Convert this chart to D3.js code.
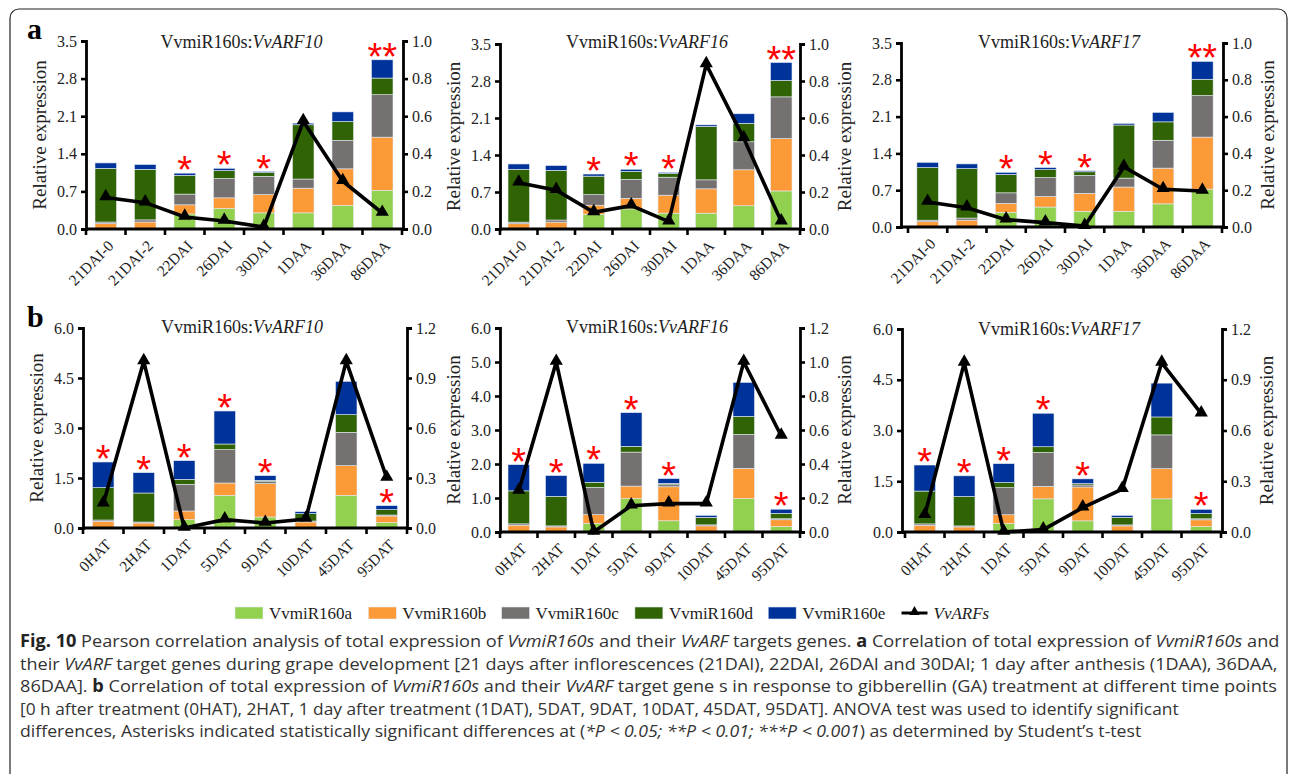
<!DOCTYPE html>
<html>
<head>
<meta charset="utf-8">
<script src="https://cdn.jsdelivr.net/npm/d3@7"></script>
<style>
  body { margin: 0; background: #fff; }
  svg text { font-family: "Liberation Serif", "Times New Roman", serif; }
</style>
</head>
<body>
<svg id="fig" width="1290" height="774"></svg>
<script>
// categories
var devCats = ["21DAI-0", "21DAI-2", "22DAI", "26DAI", "30DAI", "1DAA", "36DAA", "86DAA"];
var gaCats = ["0HAT", "2HAT", "1DAT", "5DAT", "9DAT", "10DAT", "45DAT", "95DAT"];

var seriesNames = ["VvmiR160a", "VvmiR160b", "VvmiR160c", "VvmiR160d", "VvmiR160e"];

// stacked miRNA expression, development (panel a)
var devA = [0.00, 0.00, 0.28, 0.38, 0.30, 0.30, 0.44, 0.72];
var devB = [0.10, 0.13, 0.17, 0.20, 0.34, 0.46, 0.68, 0.99];
var devC = [0.03, 0.04, 0.20, 0.36, 0.34, 0.17, 0.53, 0.79];
var devD = [1.00, 0.94, 0.35, 0.15, 0.07, 1.01, 0.35, 0.31];
var devE = [0.10, 0.09, 0.04, 0.04, 0.02, 0.03, 0.18, 0.34];

// stacked miRNA expression, GA treatment (panel b)
var gaA = [0.00, 0.00, 0.25, 0.98, 0.33, 0.02, 0.98, 0.16];
var gaB = [0.20, 0.15, 0.26, 0.37, 1.00, 0.16, 0.89, 0.20];
var gaC = [0.04, 0.03, 0.80, 1.00, 0.06, 0.03, 1.00, 0.03];
var gaD = [0.97, 0.87, 0.15, 0.17, 0.04, 0.22, 0.53, 0.16];
var gaE = [0.77, 0.61, 0.56, 0.99, 0.14, 0.06, 1.00, 0.12];

// ARF target expression (right axis)
var arf10Dev = [0.168, 0.140, 0.064, 0.043, 0.010, 0.573, 0.254, 0.085];
var arf16Dev = [0.250, 0.210, 0.090, 0.126, 0.040, 0.890, 0.490, 0.040];
var arf17Dev = [0.136, 0.105, 0.040, 0.024, 0.005, 0.326, 0.205, 0.196];
var arf10GA = [0.146, 1.000, 0.000, 0.050, 0.030, 0.054, 1.000, 0.300];
var arf16GA = [0.241, 1.000, 0.000, 0.155, 0.167, 0.167, 1.000, 0.565];
var arf17GA = [0.099, 1.000, 0.000, 0.014, 0.144, 0.253, 1.000, 0.700];

// significance marks
var devSig = ["", "", "*", "*", "*", "", "", "**"];
var gaSig = ["*", "*", "*", "*", "*", "", "", "*"];

var colors = ["#92d050", "#fb9a36", "#767171", "#2f6303", "#003399"];

var svg = d3.select("#fig");

// outer frame
svg.append("rect")
  .attr("x", 10).attr("y", 9)
  .attr("width", 1277).attr("height", 775)
  .attr("rx", 9)
  .attr("fill", "none").attr("stroke", "#222").attr("stroke-width", 1.2);

function stackRows(cats, cols) {
  return cats.map(function (c, i) {
    var row = { cat: c };
    seriesNames.forEach(function (s, j) { row[s] = cols[j][i]; });
    return row;
  });
}

function drawChart(cfg) {
  var g = svg.append("g");

  var x = d3.scaleBand().domain(cfg.cats).range([cfg.x0, cfg.x1]);
  var y = d3.scaleLinear().domain([0, cfg.yMax]).range([cfg.bottom, cfg.top]);
  var y2 = d3.scaleLinear().domain([0, cfg.y2Max]).range([cfg.bottom, cfg.top]);

  var rows = stackRows(cfg.cats, cfg.cols);
  var stacked = d3.stack().keys(seriesNames)(rows);
  var bw = 21.5;

  g.selectAll("g.layer")
    .data(stacked)
    .join("g")
    .attr("class", "layer")
    .attr("fill", function (d, i) { return colors[i]; })
    .selectAll("rect")
    .data(function (d) { return d; })
    .join("rect")
    .attr("x", function (d) { return x(d.data.cat) + x.bandwidth() / 2 - bw / 2; })
    .attr("width", bw)
    .attr("y", function (d) { return y(d[1]); })
    .attr("height", function (d) { return Math.max(0, y(d[0]) - y(d[1])); })
    .attr("stroke", "#e4e9f3")
    .attr("stroke-width", 0.6);

  // asterisks
  var totals = rows.map(function (r) { return d3.sum(seriesNames, function (s) { return r[s]; }); });
  g.selectAll("text.sig")
    .data(cfg.sig)
    .join("text")
    .attr("class", "sig")
    .attr("x", function (d, i) { return x(cfg.cats[i]) + x.bandwidth() / 2; })
    .attr("y", function (d, i) { return y(totals[i]) + 10; })
    .attr("text-anchor", "middle")
    .style("font-family", "'Liberation Sans', Arial, sans-serif")
    .style("font-size", "38px")
    .attr("fill", "#ff0000")
    .text(function (d) { return d; });

  // axes
  var yTicks = d3.range(0, cfg.yMax + 1e-6, cfg.yStep);
  var y2Ticks = d3.range(0, cfg.y2Max + 1e-6, cfg.y2Step);

  var axL = g.append("g")
    .attr("transform", "translate(" + cfg.left + ",0)")
    .call(d3.axisLeft(y).tickValues(yTicks).tickFormat(d3.format(".1f")).tickSizeOuter(0).tickSize(5).tickPadding(4));
  var axR = g.append("g")
    .attr("transform", "translate(" + cfg.right + ",0)")
    .call(d3.axisRight(y2).tickValues(y2Ticks).tickFormat(d3.format(".1f")).tickSizeOuter(0).tickSize(5).tickPadding(4));
  var axB = g.append("g")
    .attr("transform", "translate(0," + cfg.bottom + ")")
    .call(d3.axisBottom(x).tickSize(0).tickFormat(""));

  [axL, axR, axB].forEach(function (ax) {
    ax.select(".domain").attr("stroke", "#000").attr("stroke-width", 2.8);
    ax.selectAll(".tick line").attr("stroke", "#000").attr("stroke-width", 2.6);
    ax.selectAll("text").style("font-size", "16px").attr("fill", "#222");
  });
  axB.select(".domain").attr("d", "M" + cfg.left + ",0H" + cfg.right);

  // x ticks at band edges
  var edges = cfg.cats.map(function (c) { return x(c); }).concat([cfg.x1]);
  axB.selectAll("line.edge")
    .data(edges)
    .join("line")
    .attr("class", "edge")
    .attr("x1", function (d) { return d; }).attr("x2", function (d) { return d; })
    .attr("y1", 0).attr("y2", 6)
    .attr("stroke", "#000").attr("stroke-width", 2.6);

  // rotated category labels
  g.selectAll("text.xlab")
    .data(cfg.cats)
    .join("text")
    .attr("class", "xlab")
    .attr("transform", function (d) {
      return "translate(" + (x(d) + x.bandwidth() / 2 + 5) + "," + (cfg.bottom + 14) + ") rotate(-45)";
    })
    .attr("text-anchor", "end")
    .attr("dy", "0.35em")
    .style("font-size", "15.5px")
    .attr("fill", "#222")
    .text(function (d) { return d; });

  // ARF line + triangles
  var pts = cfg.line.map(function (v, i) { return [x(cfg.cats[i]) + x.bandwidth() / 2, y2(v)]; });
  g.append("path")
    .attr("d", d3.line()(pts))
    .attr("fill", "none")
    .attr("stroke", "#000")
    .attr("stroke-width", 3.6)
    .attr("stroke-linejoin", "miter");
  g.selectAll("path.mk")
    .data(pts)
    .join("path")
    .attr("class", "mk")
    .attr("transform", function (d) { return "translate(" + d[0] + "," + (d[1] - 1) + ")"; })
    .attr("d", d3.symbol(d3.symbolTriangle, 75))
    .attr("fill", "#000");

  // title
  var t = g.append("text")
    .attr("x", (cfg.left + cfg.right) / 2 - 3)
    .attr("y", cfg.titleY)
    .attr("text-anchor", "middle")
    .style("font-size", "18px")
    .attr("fill", "#222");
  t.append("tspan").text("VvmiR160s:");
  t.append("tspan").style("font-style", "italic").text(cfg.gene);

  // axis titles
  var midY = (cfg.top + cfg.bottom) / 2;
  if (cfg.leftLabel) {
    g.append("text")
      .attr("transform", "translate(" + (cfg.left - 40) + "," + midY + ") rotate(-90)")
      .attr("text-anchor", "middle")
      .style("font-size", "19px")
      .attr("fill", "#222")
      .text("Relative expression");
  }
  if (cfg.rightLabel) {
    g.append("text")
      .attr("transform", "translate(" + (cfg.right + 51) + "," + midY + ") rotate(-90)")
      .attr("text-anchor", "middle")
      .style("font-size", "19px")
      .attr("fill", "#222")
      .text("Relative expression");
  }
}

var devCols = [devA, devB, devC, devD, devE];
var gaCols = [gaA, gaB, gaC, gaD, gaE];

var charts = [
  { cats: devCats, cols: devCols, line: arf10Dev, sig: devSig, gene: "VvARF10",
    left: 86, right: 403, x0: 86, x1: 402, top: 41, bottom: 229, titleY: 48,
    yMax: 3.5, yStep: 0.7, y2Max: 1.0, y2Step: 0.2, leftLabel: true, rightLabel: false },
  { cats: devCats, cols: devCols, line: arf16Dev, sig: devSig, gene: "VvARF16",
    left: 500, right: 800, x0: 500, x1: 800, top: 44, bottom: 229, titleY: 48,
    yMax: 3.5, yStep: 0.7, y2Max: 1.0, y2Step: 0.2, leftLabel: true, rightLabel: true },
  { cats: devCats, cols: devCols, line: arf17Dev, sig: devSig, gene: "VvARF17",
    left: 901, right: 1223, x0: 908, x1: 1222, top: 43, bottom: 227, titleY: 48,
    yMax: 3.5, yStep: 0.7, y2Max: 1.0, y2Step: 0.2, leftLabel: false, rightLabel: true },
  { cats: gaCats, cols: gaCols, line: arf10GA, sig: gaSig, gene: "VvARF10",
    left: 83, right: 407, x0: 83, x1: 407, top: 328, bottom: 528, titleY: 333,
    yMax: 6.0, yStep: 1.5, y2Max: 1.2, y2Step: 0.3, leftLabel: true, rightLabel: false },
  { cats: gaCats, cols: gaCols, line: arf16GA, sig: gaSig, gene: "VvARF16",
    left: 500, right: 800, x0: 500, x1: 800, top: 328, bottom: 532, titleY: 333,
    yMax: 6.0, yStep: 1.0, y2Max: 1.2, y2Step: 0.2, leftLabel: true, rightLabel: true },
  { cats: gaCats, cols: gaCols, line: arf17GA, sig: gaSig, gene: "VvARF17",
    left: 902, right: 1222, x0: 905, x1: 1221, top: 329, bottom: 532, titleY: 335,
    yMax: 6.0, yStep: 1.5, y2Max: 1.2, y2Step: 0.3, leftLabel: false, rightLabel: true }
];

charts.forEach(drawChart);

// panel letters
svg.append("text").attr("x", 27).attr("y", 39)
  .style("font-size", "30px").style("font-weight", "bold").text("a");
svg.append("text").attr("x", 27).attr("y", 327)
  .style("font-size", "30px").style("font-weight", "bold").text("b");

// legend
var lg = svg.append("g").attr("transform", "translate(0,613)");
seriesNames.forEach(function (s, i) {
  var lx = 235 + i * 133.3;
  lg.append("rect").attr("x", lx).attr("y", -6).attr("width", 28).attr("height", 12)
    .attr("fill", colors[i]).attr("stroke", "#e4e9f3").attr("stroke-width", 0.6);
  lg.append("text").attr("x", lx + 34).attr("y", 6)
    .style("font-size", "17px").attr("fill", "#222").text(s);
});
var lineX = 235 + 5 * 133.3;
lg.append("line").attr("x1", lineX).attr("x2", lineX + 26).attr("y1", 0).attr("y2", 0)
  .attr("stroke", "#000").attr("stroke-width", 3);
lg.append("path").attr("transform", "translate(" + (lineX + 13) + ",-1)")
  .attr("d", d3.symbol(d3.symbolTriangle, 45)).attr("fill", "#000");
lg.append("text").attr("x", lineX + 32).attr("y", 6)
  .style("font-size", "17px").style("font-style", "italic").attr("fill", "#222").text("VvARFs");

// caption
var captionLines = [
  [["b", "Fig. 10"], ["", " Pearson correlation analysis of total expression of "], ["i", "VvmiR160s"], ["", " and their "], ["i", "VvARF"], ["", " targets genes. "], ["b", "a"], ["", " Correlation of total expression of "], ["i", "VvmiR160s"], ["", " and"]],
  [["", "their "], ["i", "VvARF"], ["", " target genes during grape development [21 days after inflorescences (21DAI), 22DAI, 26DAI and 30DAI; 1 day after anthesis (1DAA), 36DAA,"]],
  [["", "86DAA]. "], ["b", "b"], ["", " Correlation of total expression of "], ["i", "VvmiR160s"], ["", " and their "], ["i", "VvARF"], ["", " target gene s in response to gibberellin (GA) treatment at different time points"]],
  [["", "[0 h after treatment (0HAT), 2HAT, 1 day after treatment (1DAT), 5DAT, 9DAT, 10DAT, 45DAT, 95DAT]. ANOVA test was used to identify significant"]],
  [["", "differences, Asterisks indicated statistically significant differences at ("], ["i", "*P < 0.05; **P < 0.01; ***P < 0.001"], ["", ") as determined by Student\u2019s t-test"]]
];
var captionWidths = [1260, 1258, 1258, 1160, 1122];

captionLines.forEach(function (parts, i) {
  var ty = 647 + i * 22.6;
  var t = svg.append("text")
    .style("font-family", "'Open Sans', 'Noto Sans', sans-serif")
    .style("font-size", "17px")
    .attr("fill", "#333")
    .attr("xml:space", "preserve");
  parts.forEach(function (p) {
    var sp = t.append("tspan").text(p[1]);
    if (p[0] === "b") sp.style("font-weight", "bold").attr("fill", "#222");
    if (p[0] === "i") sp.style("font-style", "italic");
  });
  var w = t.node().getComputedTextLength();
  var sx = captionWidths[i] / w;
  t.attr("transform", "translate(20," + ty + ") scale(" + sx + ",1)");
});
</script>
</body>
</html>
